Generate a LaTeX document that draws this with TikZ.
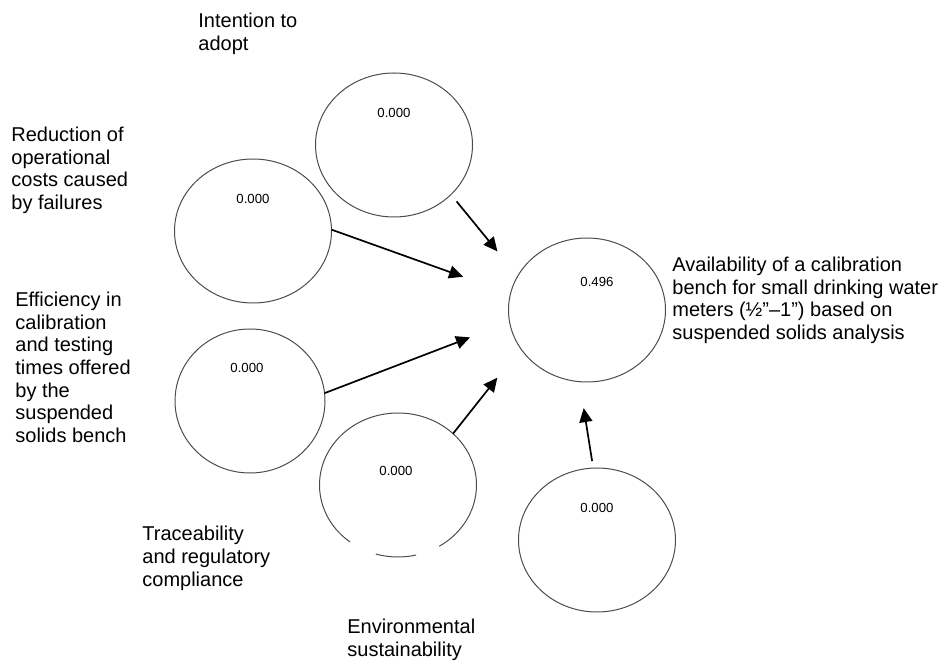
\documentclass[tikz,border=0pt]{standalone}
\usepackage{fontspec}
\setmainfont{Liberation Sans}
\usetikzlibrary{shapes.geometric, arrows.meta, calc}
\tikzset{
    construct/.style={ellipse, draw=black!70, line width=0.5pt, minimum width=78.5pt,
        minimum height=72pt, inner sep=0pt, outer sep=0pt},
    rsquare/.style={font=\fontsize{6.6pt}{8pt}\selectfont, inner sep=0pt},
    varlabel/.style={anchor=north west, align=left, inner sep=0pt,
        font=\fontsize{10pt}{11.35pt}\selectfont},
    patharrow/.style={-{Triangle[length=7pt, width=6.5pt]}, line width=0.85pt},
}

\begin{document}
\begin{tikzpicture}[x=0.5pt, y=-0.5pt]
    \useasboundingbox (0,0) rectangle (950,662);

    % constructs of the model
    \node[construct] (intent) at (394,145) {};
    \node[construct] (reduct) at (253,231) {};
    \node[construct, minimum width=75pt] (effic) at (250,401) {};
    \node[construct, draw=none] (trace) at (398,485) {};
    \node[construct] (env) at (597,540) {};
    \node[construct] (avail) at (587,310) {};

    % outline of the traceability construct, broken at the bottom
    \draw[black!70, line width=0.5pt] ($(trace)+(127.6:78.5 and 72)$)
        arc[start angle=127.6, end angle=418.3, x radius=78.5, y radius=72];
    \draw[black!70, line width=0.5pt] ($(trace)+(76.7:78.5 and 72)$)
        arc[start angle=76.7, end angle=106.4, x radius=78.5, y radius=72];

    % R-squared values
    \node[rsquare] (intent-r2) at (394,113) {0.000};
    \node[rsquare] (reduct-r2) at (253,199) {0.000};
    \node[rsquare] (effic-r2) at (247,368) {0.000};
    \node[rsquare] (trace-r2) at (396,471) {0.000};
    \node[rsquare] (env-r2) at (597,508) {0.000};
    \node[rsquare] (avail-r2) at (597,282) {0.496};

    % paths
    \draw[patharrow, shorten <=4.45pt, shorten >=16pt] (intent.-41.6) -- (avail.154.5);
    \draw[patharrow, shorten >=25.2pt] (reduct.1.6) -- (avail.168.5);
    \draw[patharrow, shorten >=21.2pt] (effic.6.3) -- (avail.-171.3);
    \draw[patharrow, shorten >=18.7pt] (trace.43.4) -- (avail.-150.6);
    \draw[patharrow, shorten <=3.6pt, shorten >=13.4pt] (env.93) -- (avail.-96.8);

    % construct names
    \node[varlabel] (intent-txt) at (198,12.5) {Intention to\\adopt};
    \node[varlabel] (reduct-txt) at (11,126.5) {Reduction of\\operational\\costs caused\\by failures};
    \node[varlabel] (effic-txt) at (15,291.5) {Efficiency in\\calibration\\and testing\\times offered\\by the\\suspended\\solids bench};
    \node[varlabel] (trace-txt) at (142,526) {Traceability\\and regulatory\\compliance};
    \node[varlabel] (env-txt) at (347,619) {Environmental\\sustainability};
    \node[varlabel] (avail-txt) at (672,256.5) {Availability of a calibration\\bench for small drinking water\\meters (½”–1”) based on\\suspended solids analysis};
\end{tikzpicture}
\end{document}
